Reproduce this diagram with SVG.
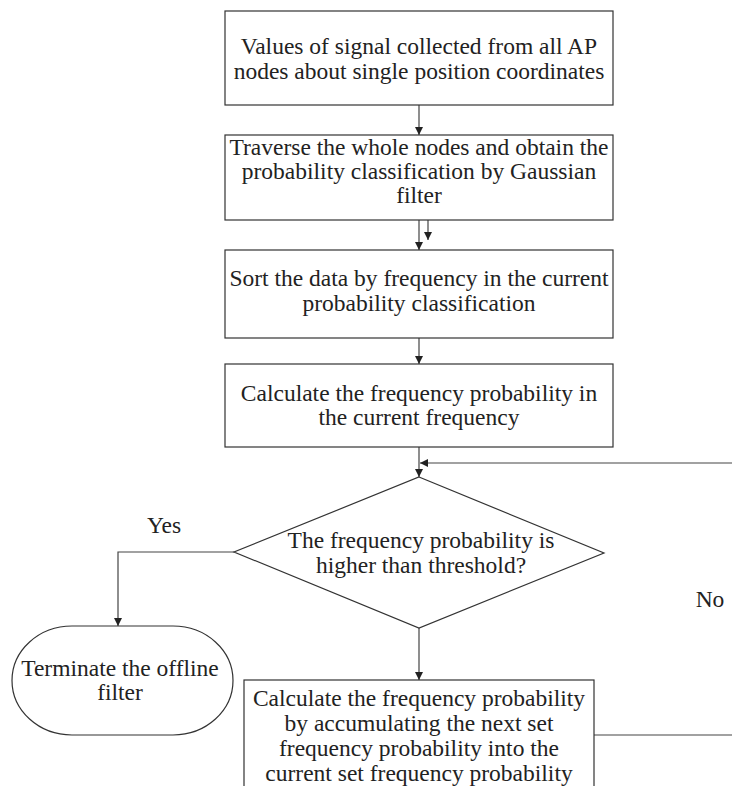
<svg xmlns="http://www.w3.org/2000/svg" width="732" height="786" viewBox="0 0 732 786">
<style>
.n{fill:#fff;stroke:#333;stroke-width:1.2}
.t{font-family:"Liberation Serif","Times New Roman",serif;font-size:23.5px;fill:#222;text-anchor:middle}
.c{fill:none;stroke:#444;stroke-width:1.2}
</style>
<defs>
<marker id="a" viewBox="0 0 10 10" refX="10" refY="5" markerWidth="8" markerHeight="8" markerUnits="userSpaceOnUse" orient="auto">
<path d="M0,0 L10,5 L0,10 z" fill="#222"/>
</marker>
</defs>
<rect width="732" height="786" fill="#fff"/>
<g id="connectors">
<path class="c" d="M419,105 V135" marker-end="url(#a)"/>
<path class="c" d="M419,220 V250" marker-end="url(#a)"/>
<path class="c" d="M428,214 V240" marker-end="url(#a)"/>
<path class="c" d="M419,338 V364" marker-end="url(#a)"/>
<path class="c" d="M419,447 V477" marker-end="url(#a)"/>
<path class="c" d="M732,463 H420" marker-end="url(#a)"/>
<path class="c" d="M234,552 H118 V626" marker-end="url(#a)"/>
<path class="c" d="M419,628 V680" marker-end="url(#a)"/>
<path class="c" d="M594,735 H732"/>
</g>
<g id="n1">
<rect class="n" x="225" y="11" width="388" height="94"/>
<text class="t" x="419" y="54">Values of signal collected from all AP</text>
<text class="t" x="419" y="79">nodes about single position coordinates</text>
</g>
<g id="n2">
<rect class="n" x="225" y="135" width="388" height="85"/>
<text class="t" x="419" y="155">Traverse the whole nodes and obtain the</text>
<text class="t" x="419" y="179">probability classification by Gaussian</text>
<text class="t" x="419" y="203">filter</text>
</g>
<g id="n3">
<rect class="n" x="225" y="250" width="388" height="88"/>
<text class="t" x="419" y="286">Sort the data by frequency in the current</text>
<text class="t" x="419" y="311">probability classification</text>
</g>
<g id="n4">
<rect class="n" x="225" y="364" width="388" height="83"/>
<text class="t" x="419" y="401">Calculate the frequency probability in</text>
<text class="t" x="419" y="425">the current frequency</text>
</g>
<g id="n5">
<path class="n" d="M419,477 L604,553 L419,628 L234,552 Z"/>
<text class="t" x="421" y="548">The frequency probability is</text>
<text class="t" x="421" y="573">higher than threshold?</text>
</g>
<g id="n6">
<rect class="n" x="12" y="626" width="221" height="109" rx="60" ry="54.5"/>
<text class="t" x="120" y="676">Terminate the offline</text>
<text class="t" x="120" y="700">filter</text>
</g>
<g id="n7">
<rect class="n" x="244" y="680" width="350" height="130"/>
<text class="t" x="419" y="706">Calculate the frequency probability</text>
<text class="t" x="419" y="731">by accumulating the next set</text>
<text class="t" x="419" y="756">frequency probability into the</text>
<text class="t" x="419" y="781">current set frequency probability</text>
</g>
<g id="labels">
<text class="t" x="164" y="533">Yes</text>
<text class="t" x="710" y="607">No</text>
</g>
</svg>
